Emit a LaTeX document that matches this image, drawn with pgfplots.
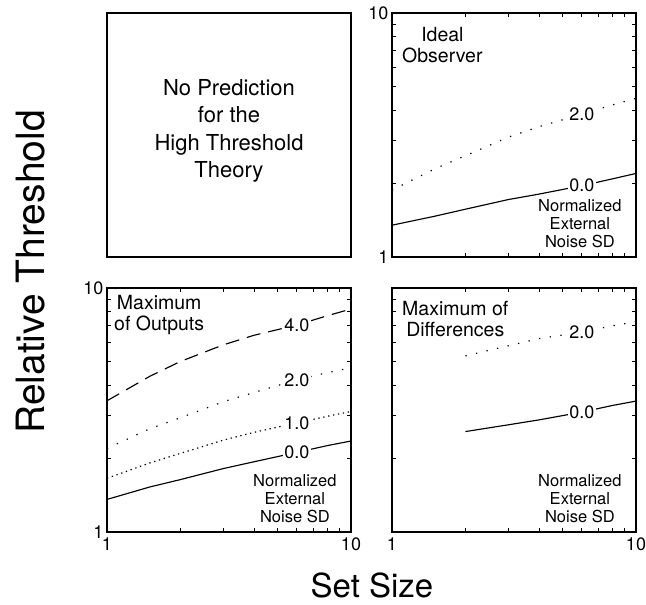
\documentclass[border=0pt]{standalone}
\usepackage{fontspec}
\setmainfont{TeX Gyre Heros}
\usepackage{pgfplots}
\pgfplotsset{compat=1.18}

\tikzset{
  solidcurve/.style={black, line width=1.15pt},
  sparsedots/.style={black, line width=1.2pt, dash pattern=on 1.3pt off 9.5pt},
  finedots/.style={black, line width=1.2pt, dash pattern=on 1.3pt off 3.7pt},
  longdash/.style={black, line width=1.15pt, dash pattern=on 14pt off 8pt},
  lbl/.style={fill=white, inner sep=1.5pt, font=\fontsize{18}{18}\selectfont},
  ttl/.style={anchor=north west, align=center, inner sep=0pt,
    font=\fontsize{19.5}{21}\selectfont},
  sdnote/.style={anchor=south, align=center, inner sep=0pt,
    font=\fontsize{16.5}{18}\selectfont},
}

\begin{document}
\begin{tikzpicture}
\useasboundingbox (0pt,0pt) rectangle (646pt,605pt);

% top left: empty panel with a note
\begin{axis}[scale only axis, width=244pt, height=244pt, anchor=south west,
  at={(107pt,348pt)}, xmin=0, xmax=1, ymin=0, ymax=1,
  xtick=\empty, ytick=\empty, axis line style={line width=1.5pt}]
  \node[align=center, font=\fontsize{22}{27.5}\selectfont, yshift=4pt]
    at (rel axis cs:0.5,0.5) {No Prediction\\for the\\High Threshold\\Theory};
\end{axis}

% top right: ideal observer
\begin{loglogaxis}[scale only axis, width=244pt, height=244pt, anchor=south west,
    at={(392pt,348pt)},
    xmin=1, xmax=10, ymin=1, ymax=10,
    xtick={1,10}, ytick={1,10}, xticklabels={}, yticklabels={1,10},
    minor xtick={2,3,4,5,6,7,8,9}, minor ytick={2,3,4,5,6,7,8,9},
    tick align=inside, major tick length=4pt, minor tick length=4pt,
    axis line style={line width=1.5pt},
    every tick/.style={line width=0.8pt, black},
    tick label style={font=\fontsize{18}{18}\selectfont},
    clip=false]
  \addplot[solidcurve] coordinates {(1,1.35) (1.5,1.47) (2,1.57) (3,1.72) (4,1.81) (6,1.96) (8,2.09) (10,2.2)};
  \addplot[sparsedots] coordinates {(1,1.88) (1.5,2.3) (2,2.6) (3,3.1) (4,3.42) (6,3.85) (8,4.2) (10,4.47)};
  \node[lbl] at (axis cs:6,1.96) {0.0};
  \node[lbl] at (axis cs:6,3.85) {2.0};
  \node[ttl, xshift=10pt, yshift=-14pt] at (rel axis cs:0,1) {Ideal\\Observer};
  \node[sdnote, yshift=9pt] at (rel axis cs:0.77,0) {Normalized\\External\\Noise SD};
\end{loglogaxis}

% bottom left: maximum of outputs
\begin{loglogaxis}[scale only axis, width=244pt, height=244pt, anchor=south west,
    at={(107pt,73pt)},
    xmin=1, xmax=10, ymin=1, ymax=10,
    xtick={1,10}, ytick={1,10}, xticklabels={1,10}, yticklabels={1,10},
    minor xtick={2,3,4,5,6,7,8,9}, minor ytick={2,3,4,5,6,7,8,9},
    tick align=inside, major tick length=4pt, minor tick length=4pt,
    axis line style={line width=1.5pt},
    every tick/.style={line width=0.8pt, black},
    tick label style={font=\fontsize{18}{18}\selectfont},
    xticklabel style={yshift=-2pt},
    clip=false]
  \addplot[solidcurve] coordinates {(1,1.36) (1.5,1.53) (2,1.64) (3,1.82) (4,1.94) (6,2.12) (8,2.26) (10,2.36)};
  \addplot[finedots] coordinates {(1,1.66) (1.5,1.92) (2,2.1) (3,2.38) (4,2.56) (6,2.8) (8,2.98) (10,3.12)};
  \addplot[sparsedots] coordinates {(1,2.2) (1.5,2.65) (2,2.94) (3,3.42) (4,3.73) (6,4.2) (8,4.5) (10,4.71)};
  \addplot[longdash] coordinates {(1,3.45) (1.5,4.35) (2,5.0) (3,5.85) (4,6.4) (6,7.05) (8,7.7) (10,8.2)};
  \node[lbl] at (axis cs:6,2.12) {0.0};
  \node[lbl] at (axis cs:6,2.8) {1.0};
  \node[lbl] at (axis cs:6,4.2) {2.0};
  \node[lbl] at (axis cs:6,7.05) {4.0};
  \node[ttl, xshift=7pt, yshift=-7pt] at (rel axis cs:0,1) {Maximum\\of Outputs};
  \node[sdnote, yshift=9pt] at (rel axis cs:0.77,0) {Normalized\\External\\Noise SD};
\end{loglogaxis}

% bottom right: maximum of differences
\begin{loglogaxis}[scale only axis, width=244pt, height=244pt, anchor=south west,
    at={(392pt,73pt)},
    xmin=1, xmax=10, ymin=1, ymax=10,
    xtick={1,10}, ytick={1,10}, xticklabels={1,10}, yticklabels={},
    minor xtick={2,3,4,5,6,7,8,9}, minor ytick={2,3,4,5,6,7,8,9},
    tick align=inside, major tick length=4pt, minor tick length=4pt,
    axis line style={line width=1.5pt},
    every tick/.style={line width=0.8pt, black},
    tick label style={font=\fontsize{18}{18}\selectfont},
    xticklabel style={yshift=-2pt},
    clip=false]
  \addplot[solidcurve] coordinates {(2,2.58) (3,2.75) (4,2.88) (6,3.1) (8,3.3) (10,3.44)};
  \addplot[sparsedots] coordinates {(2,5.27) (3,5.8) (4,6.2) (6,6.6) (8,7.0) (10,7.28)};
  \node[lbl] at (axis cs:6,3.1) {0.0};
  \node[lbl] at (axis cs:6,6.6) {2.0};
  \node[ttl, xshift=10pt, yshift=-13pt] at (rel axis cs:0,1) {Maximum of\\Differences};
  \node[sdnote, yshift=9pt] at (rel axis cs:0.77,0) {Normalized\\External\\Noise SD};
\end{loglogaxis}

% shared axis titles
\node[rotate=90, font=\fontsize{39}{39}\selectfont] at (31pt,333pt) {Relative Threshold};
\node[font=\fontsize{33}{33}\selectfont] at (372pt,20pt) {Set Size};
\end{tikzpicture}
\end{document}
